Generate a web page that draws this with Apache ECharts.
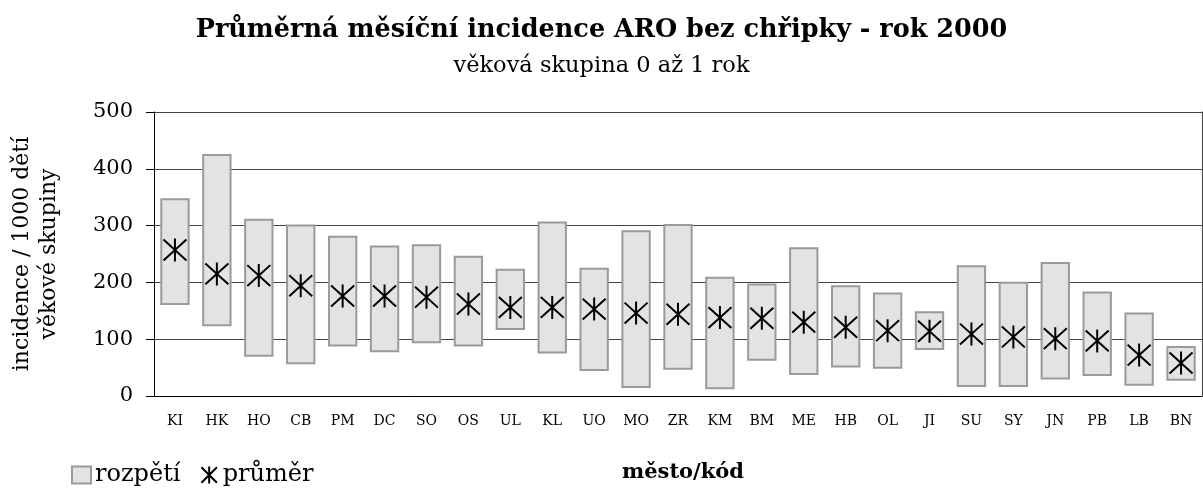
<!DOCTYPE html>
<html style="height: 100%">
   <head>
       <meta charset="utf-8">
   </head>
   <body style="height: 100%; margin: 0; background: #fff">
       <div id="container" style="width: 1203px; height: 495px"></div>
       <script type="text/javascript" src="https://cdn.jsdelivr.net/npm/echarts@6/dist/echarts.min.js"></script>
       <script type="text/javascript">
var dom = document.getElementById("container");
var myChart = echarts.init(dom);

var cities = ['KI', 'HK', 'HO', 'CB', 'PM', 'DC', 'SO', 'OS', 'UL', 'KL', 'UO', 'MO', 'ZR',
    'KM', 'BM', 'ME', 'HB', 'OL', 'JI', 'SU', 'SY', 'JN', 'PB', 'LB', 'BN'];
var minima = [160, 123, 69, 56, 87, 77, 93, 87, 116, 75, 44, 14, 46,
    12, 62, 37, 50, 48, 81, 16, 16, 29, 35, 18, 27];
var maxima = [348, 426, 312, 302, 282, 265, 267, 247, 224, 307, 226, 292, 303,
    210, 198, 262, 195, 182, 149, 230, 201, 236, 184, 147, 88];
var means = [257, 215, 212, 194, 176, 176, 174, 162, 156, 156, 153, 146, 144,
    138, 137, 130, 121, 115, 114, 109, 104, 101, 97, 72, 58];
var yTicks = [0, 100, 200, 300, 400, 500];

var serif = 'DejaVu Serif';
var starPath = 'path://M0,0L20,20M20,0L0,20M10,-1L10,21';

// bar height = range between min and max (stacked on a transparent base)
var spans = maxima.map(function (v, i) { return v - minima[i]; });

var option = {
    animation: false,
    textStyle: { fontFamily: serif, color: '#000' },
    title: [{
        text: 'Průměrná měsíční incidence ARO bez chřipky - rok 2000',
        left: 'center',
        top: 12,
        textStyle: { fontFamily: serif, fontSize: 25.5, fontWeight: 'bold', color: '#000' }
    }, {
        text: 'věková skupina 0 až 1 rok',
        left: 'center',
        top: 50,
        textStyle: { fontFamily: serif, fontSize: 22.5, fontWeight: 'normal', color: '#000' }
    }],
    legend: {
        left: 66,
        top: 458,
        itemGap: 20,
        itemWidth: 19,
        itemHeight: 17,
        textStyle: { fontFamily: serif, fontSize: 24, color: '#000', padding: [0, 0, 0, -1] },
        data: [
            { name: 'rozpětí', icon: 'rect' },
            { name: 'průměr', icon: starPath }
        ]
    },
    grid: { left: 154, right: 1, top: 112, bottom: 99, outerBoundsMode: 'none' },
    xAxis: {
        type: 'category',
        data: cities,
        name: 'město/kód',
        nameLocation: 'middle',
        nameGap: 66,
        nameTextStyle: { fontFamily: serif, fontSize: 21, fontWeight: 'bold', color: '#000', padding: [0, 0, 0, 10] },
        axisLine: { lineStyle: { color: '#000', width: 1 } },
        axisTick: { length: 7, lineStyle: { color: '#000' } },
        axisLabel: { fontFamily: serif, fontSize: 14, color: '#000', margin: 18 }
    },
    yAxis: [{
        type: 'value',
        min: yTicks[0],
        max: yTicks[yTicks.length - 1],
        interval: 100,
        name: 'incidence / 1000 dětí\nvěkové skupiny',
        nameLocation: 'middle',
        nameGap: 91,
        nameTextStyle: { fontFamily: serif, fontSize: 22, color: '#000', lineHeight: 27 },
        axisLine: { show: true, lineStyle: { color: '#000', width: 1 } },
        axisTick: { show: true, length: 8, lineStyle: { color: '#000' } },
        axisLabel: { fontFamily: serif, fontSize: 21, color: '#000', margin: 21 },
        splitLine: { lineStyle: { color: '#444', width: 1 } }
    }, {
        type: 'value',
        position: 'right',
        min: 0,
        max: 500,
        interval: 100,
        axisLine: { show: true, lineStyle: { color: '#444', width: 1 } },
        axisTick: { show: false },
        axisLabel: { show: false },
        splitLine: { show: false }
    }],
    series: [{
        name: 'base',
        type: 'bar',
        stack: 'range',
        data: minima,
        barWidth: '70%',
        itemStyle: { color: 'rgba(0,0,0,0)' },
        silent: true
    }, {
        name: 'rozpětí',
        type: 'bar',
        stack: 'range',
        data: spans,
        barWidth: '70%',
        itemStyle: { color: '#e3e3e3', borderColor: '#9a9a9a', borderWidth: 2 }
    }, {
        name: 'průměr',
        type: 'scatter',
        data: means,
        symbol: starPath,
        symbolSize: [23, 23],
        itemStyle: { color: 'rgba(0,0,0,0)', borderColor: '#000', borderWidth: 2, opacity: 1 },
        z: 5
    }]
};

myChart.setOption(option, true);
       </script>
   </body>
</html>
